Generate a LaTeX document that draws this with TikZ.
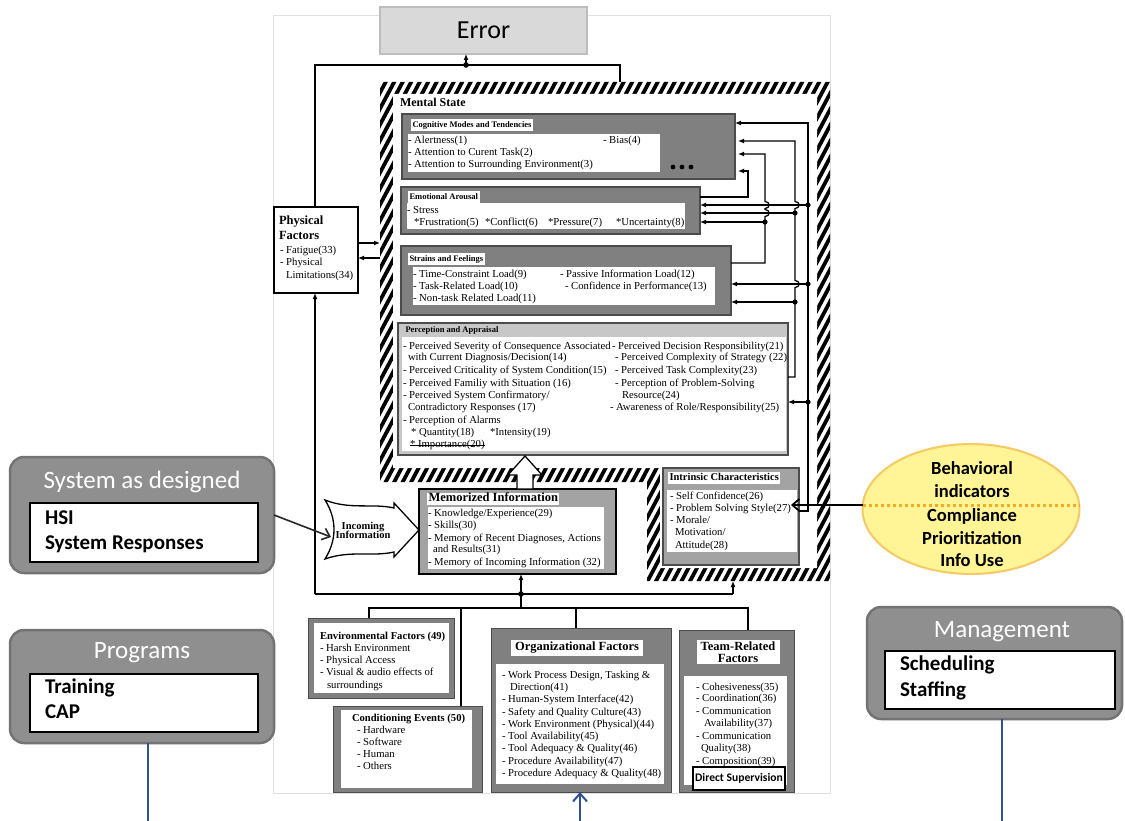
\documentclass[tikz,border=0pt]{standalone}
\usepackage{fontspec}
\setmainfont{Liberation Serif}
\newfontfamily\calib{Carlito}
\usetikzlibrary{arrows.meta,shapes.geometric}

\definecolor{gDark}{gray}{0.50}
\definecolor{gMid}{gray}{0.64}
\definecolor{gLight}{gray}{0.78}
\definecolor{gEdge}{gray}{0.30}
\definecolor{errFill}{gray}{0.85}
\definecolor{errEdge}{gray}{0.74}
\definecolor{outerFill}{gray}{0.56}
\definecolor{outerEdge}{gray}{0.45}
\definecolor{panelEdge}{gray}{0.88}
\definecolor{navy}{RGB}{47,82,143}
\definecolor{ellFill}{RGB}{255,245,150}
\definecolor{ellEdge}{RGB}{247,200,100}
\definecolor{ellDot}{RGB}{242,172,40}

% box from (x1,y1) to (x2,y2): name, style, x1, y1, x2, y2, text
\newcommand\bx[7]{\node[#2,inner sep=0pt,outer sep=0pt,minimum width={(#5-#3)*1pt},minimum height={(#6-#4)*1pt}] (#1) at ({(#3+#5)/2},{(#4+#6)/2}) {#7};}
% one line of text, left aligned at (x,y)
\newcommand\txl[5][]{\node[tx,#1] (#2) at (#3,#4) {#5};}

\begin{document}
\begin{tikzpicture}[x=1pt,y=-1pt,
  tx/.style={inner sep=0pt,outer sep=0pt,anchor=west,text height=0.72em,text depth=0.22em,font=\fontsize{10.7}{12}\selectfont},
  ttl/.style={tx,fill=white,inner xsep=1.5pt,inner ysep=1pt,font=\bfseries\fontsize{8.5}{10}\selectfont},
  bt/.style={font=\bfseries\fontsize{#1}{#1}\selectfont},
  gbox/.style={draw=gEdge,fill=gDark,line width=1.2pt},
  mbox/.style={draw=gEdge,fill=gMid,line width=1.2pt},
  wbox/.style={fill=white},
  obox/.style={rounded corners=14pt,fill=outerFill,draw=outerEdge,line width=2.5pt},
  otitle/.style={font=\calib\fontsize{25}{28}\selectfont,text=white,inner sep=0pt},
  oitem/.style={font=\calib\bfseries\fontsize{21}{24}\selectfont},
  ewords/.style={font=\calib\bfseries\fontsize{18.5}{22}\selectfont,inner sep=0pt},
  con/.style={line width=1.2pt},
  arr/.style={con,-{Latex[length=6pt,width=5pt]}},
  barb/.style={-{Straight Barb[length=7pt,width=12pt]}},
]
% canvas
\fill[white] (0,0) rectangle (1125,821);
\useasboundingbox (0,0) rectangle (1125,821);
\draw[panelEdge,fill=white,line width=0.8pt] (273,15) rectangle (830,793);

% hatched border of the mental state region
\begin{scope}
  \clip (380,82) -- (830,82) -- (830,581) -- (647,581) -- (647,482) -- (380,482) -- cycle;
  \foreach \a in {0,8.5,...,860} \draw[line width=3.8pt] (\a,600) -- ++(340,-640);
\end{scope}
\fill[white] (393,94) -- (817,94) -- (817,568) -- (660,568) -- (660,468) -- (393,468) -- cycle;

% Error
\bx{err}{draw=errEdge,fill=errFill,line width=1.5pt,font=\calib\fontsize{26}{28}\selectfont}{380}{7}{587}{54}{Error}

% Physical factors
\bx{phys}{draw=black,fill=white,line width=1.8pt}{274}{207}{358}{293}{}
\txl[bt=12.5]{ph1}{279}{222}{Physical}
\txl[bt=12.5]{ph2}{279}{237}{Factors}
\txl{ph3}{280}{251}{- Fatigue(33)}
\txl{ph4}{280}{263}{- Physical}
\txl{ph5}{286}{276}{Limitations(34)}

% connectors up to Error
\coordinate (jErr) at (466,65);
\coordinate (jL) at (315,65);
\coordinate (jR) at (620,65);
\coordinate (msTop) at (620,82);
\draw[con] (jL |- phys.north) -- (jL) -- (jR) -- (msTop);
\draw[arr] (jErr) -- (jErr |- err.south);
\fill (jErr) circle[radius=2.8pt];

% physical factors <-> mental state
\coordinate (msL1) at (380,243);
\coordinate (msL2) at (380,258);
\draw[arr] (phys.east |- msL1) -- (msL1);
\draw[arr] (msL2) -- (phys.east |- msL2);

\txl[bt=12]{ms}{400}{104}{Mental State}

% Cognitive modes
\bx{cog}{gbox}{402}{114}{735}{179}{}
\bx{cogw}{wbox}{408}{134}{660}{172}{}
\txl[ttl]{cogt}{411}{125}{Cognitive Modes and Tendencies}
\txl{cg1}{408}{141}{- Alertness(1)}
\txl{cg2}{603}{141}{- Bias(4)}
\txl{cg3}{408}{153}{- Attention to Curent Task(2)}
\txl{cg4}{408}{165}{- Attention to Surrounding Environment(3)}
\foreach \d in {673,682,691} \fill (\d,167) circle[radius=2.4pt];

% Emotional arousal
\bx{emo}{gbox}{401}{187}{700}{234}{}
\bx{emow}{wbox}{407}{203}{685}{229}{}
\txl[ttl]{emot}{408}{197}{Emotional Arousal}
\txl{em1}{407}{211}{- Stress}
\txl{em2}{414}{223}{*Frustration(5)}
\txl{em3}{485}{223}{*Conflict(6)}
\txl{em4}{548}{223}{*Pressure(7)}
\txl{em5}{616}{223}{*Uncertainty(8)}

% Strains and feelings
\bx{str}{gbox}{401}{246}{731}{315}{}
\bx{strw}{wbox}{413}{267}{715}{305}{}
\txl[ttl]{strt}{408}{259}{Strains and Feelings}
\txl{sf1}{413}{275}{- Time-Constraint Load(9)}
\txl{sf2}{413}{287}{- Task-Related Load(10)}
\txl{sf3}{413}{299}{- Non-task Related Load(11)}
\txl{sf4}{560}{275}{- Passive Information Load(12)}
\txl{sf5}{565}{287}{- Confidence in Performance(13)}

% Perception and appraisal
\bx{per}{draw=gEdge,fill=gLight,line width=1.2pt}{398}{323}{788}{455}{}
\bx{perw}{wbox}{402}{337}{786}{451}{}
\txl[ttl,fill=none]{pert}{404}{330}{Perception and Appraisal}
\txl{pa1}{403}{347}{- Perceived Severity of Consequence Associated}
\txl{pa2}{408}{358}{with Current Diagnosis/Decision(14)}
\txl{pa3}{403}{371}{- Perceived Criticality of System Condition(15)}
\txl{pa4}{403}{384}{- Perceived Familiy with Situation (16)}
\txl{pa5}{403}{396}{- Perceived System Confirmatory/}
\txl{pa6}{408}{408}{Contradictory Responses (17)}
\txl{pa7}{403}{421}{- Perception of Alarms}
\txl{pa8}{411}{433}{* Quantity(18)}
\txl{pa8b}{490}{433}{*Intensity(19)}
\txl{pa9}{410}{445}{* Importance(20)}
\draw[line width=0.7pt] (pa9.west) -- (pa9.east);
\txl{pb1}{612}{347}{- Perceived Decision Responsibility(21)}
\txl{pb2}{615}{358}{- Perceived Complexity of Strategy (22)}
\txl{pb3}{615}{371}{- Perceived Task Complexity(23)}
\txl{pb4}{615}{384}{- Perception of Problem-Solving}
\txl{pb5}{622}{396}{Resource(24)}
\txl{pb6}{610}{408}{- Awareness of Role/Responsibility(25)}

% Intrinsic characteristics
\bx{intr}{mbox}{663}{468}{799}{565}{}
\bx{intrw}{wbox}{667}{490}{797}{552}{}
\txl[ttl,bt=10.5]{intrt}{668}{478}{Intrinsic Characteristics}
\txl{ic1}{670}{497}{- Self Confidence(26)}
\txl{ic2}{670}{509}{- Problem Solving Style(27)}
\txl{ic3}{670}{521}{- Morale/}
\txl{ic4}{675}{533}{Motivation/}
\txl{ic5}{675}{546}{Attitude(28)}

% feedback lines on the right
% from intrinsic characteristics
\draw[arr] (intr.east |- 0,511) -- (808,511) -- (808,123) -- (cog.east |- 0,123);
\draw[arr] (808,205) -- (emo.east |- 0,205);
\draw[arr] (808,284) -- (str.east |- 0,284);
\draw[arr] (808,402) -- (per.east |- 0,402);
\foreach \y in {205,284,402} \fill (808,\y) circle[radius=2.6pt];
% from perception and appraisal
\draw[arr] (per.east |- 0,377) -- (795,377) -- (795,287.5)
  .. controls (800.5,287.5) and (800.5,280.5) .. (795,280.5) -- (795,208.5)
  .. controls (800.5,208.5) and (800.5,201.5) .. (795,201.5) -- (795,141) -- (738,141);
\draw[arr] (795,213) -- (emo.east |- 0,213);
\draw[arr] (795,302) -- (str.east |- 0,302);
\foreach \y in {213,302} \fill (795,\y) circle[radius=2.6pt];
% from strains and feelings
\draw[arr] (str.east |- 0,263) -- (765,263) -- (765,216.5)
  .. controls (770.5,216.5) and (770.5,209.5) .. (765,209.5) -- (765,208.5)
  .. controls (770.5,208.5) and (770.5,201.5) .. (765,201.5) -- (765,154) -- (738,154);
\draw[arr] (765,222) -- (emo.east |- 0,222);
\fill (765,222) circle[radius=2.6pt];
% from emotional arousal
\draw[arr] (emo.east |- 0,197) -- (748,197) -- (748,171) -- (738,171);

% Memorized information
\bx{mem}{draw=black,fill=gMid,line width=1.8pt}{419}{489}{616}{574}{}
\bx{memw}{wbox}{428}{507}{604}{569}{}
\txl[ttl,bt=12.5]{memt}{427}{499}{Memorized Information}
\txl{mi1}{428}{514}{- Knowledge/Experience(29)}
\txl{mi2}{428}{526}{- Skills(30)}
\txl{mi3}{428}{539}{- Memory of Recent Diagnoses, Actions}
\txl{mi4}{433}{550}{and Results(31)}
\txl{mi5}{428}{563}{- Memory of Incoming Information (32)}

% block arrow from memory to perception
\draw[line width=1.3pt,fill=white] (517,489) -- (517,475) -- (508,475) -- (525,456)
  -- (542,475) -- (533,475) -- (533,489) -- cycle;

% Incoming information
\draw[line width=1.3pt,fill=white] (325,500) .. controls (350,510) and (372,503) .. (394,508)
  -- (394,503) -- (419,530) -- (394,557) -- (394,552)
  .. controls (372,557) and (350,550) .. (325,559)
  .. controls (337,540) and (337,519) .. (325,500) -- cycle;
\node[bt=10.5,align=center,inner sep=0pt] (inc) at (363,530) {Incoming\\[-1.5pt]Information};
\coordinate (incL) at (331,537);

% bottom buses
\coordinate (busL) at (315,594);
\coordinate (busM) at (521,594);
\coordinate (busR) at (733,594);
\coordinate (msBot) at (733,581);
\coordinate (b2M) at (521,608);
\coordinate (b2L) at (369,608);
\coordinate (b2C) at (461,608);
\coordinate (b2O) at (576,608);
\coordinate (b2R) at (748,608);
\draw[arr] (busL) -- (busL |- phys.south);
\draw[con] (busL) -- (busR);
\draw[arr] (busR) -- (msBot);
\draw[arr] (busM) -- (busM |- mem.south);
\draw[con] (busM) -- (b2M);
\fill (busM) circle[radius=2.8pt];

% Environmental factors
\bx{env}{gbox,line width=1pt}{308}{618}{454}{698}{}
\bx{envw}{wbox}{314}{623}{449}{693}{}
\txl[bt=10.6]{en0}{320}{637}{Environmental Factors (49)}
\txl{en1}{320}{649}{- Harsh Environment}
\txl{en2}{320}{661}{- Physical Access}
\txl{en3}{320}{673}{- Visual \& audio effects of}
\txl{en4}{327}{686}{surroundings}

% Conditioning events
\bx{cond}{gbox,line width=1pt}{333}{706}{482}{792}{}
\bx{condw}{wbox}{341}{710}{472}{788}{}
\txl[bt=10.6]{ce0}{352}{719}{Conditioning Events (50)}
\txl{ce1}{357}{731}{- Hardware}
\txl{ce2}{357}{743}{- Software}
\txl{ce3}{357}{755}{- Human}
\txl{ce4}{357}{767}{- Others}

% Organizational factors
\bx{org}{gbox,line width=1pt}{491}{628}{671}{792}{}
\node[fill=white,inner xsep=4pt,inner ysep=2pt,bt=12.5] (orgt) at (577,648) {Organizational Factors};
\bx{orgw}{wbox}{496}{664}{664}{784}{}
\txl{of1}{502}{676}{- Work Process Design, Tasking \&}
\txl{of2}{510}{688}{Direction(41)}
\txl{of3}{502}{700}{- Human-System Interface(42)}
\txl{of4}{502}{713}{- Safety and Quality Culture(43)}
\txl{of5}{502}{725}{- Work Environment (Physical)(44)}
\txl{of6}{502}{737}{- Tool Availability(45)}
\txl{of7}{502}{749}{- Tool Adequacy \& Quality(46)}
\txl{of8}{502}{762}{- Procedure Availability(47)}
\txl{of9}{502}{774}{- Procedure Adequacy \& Quality(48)}

% Team-related factors
\bx{team}{gbox,line width=1pt}{679}{630}{794}{792}{}
\node[fill=white,align=center,inner ysep=2pt,minimum width=83pt,bt=12.5] (teamt) at (738,652) {Team-Related\\[-1pt]Factors};
\bx{teamw}{wbox}{684}{676}{787}{785}{}
\txl{tf1}{696}{688}{- Cohesiveness(35)}
\txl{tf2}{696}{699}{- Coordination(36)}
\txl{tf3}{696}{712}{- Communication}
\txl{tf4}{704}{724}{Availability(37)}
\txl{tf5}{696}{737}{- Communication}
\txl{tf6}{701}{749}{Quality(38)}
\txl{tf7}{696}{762}{- Composition(39)}
\bx{ds}{draw=black,fill=white,line width=2.2pt,font=\calib\bfseries\fontsize{11.6}{12}\selectfont}{693}{767}{785}{790}{Direct Supervision}

% second bus down to the factor groups
\draw[con] (env.north -| b2L) -- (b2L) -- (b2R) -- (team.north -| b2R);
\draw[con] (b2C) -- (b2C |- cond.north);
\draw[con] (b2O) -- (b2O |- org.north);

% Behavioral indicators
\node[ellipse,draw=ellEdge,fill=ellFill,line width=2pt,minimum width=217pt,minimum height=130pt,inner sep=0pt] (beh) at (971,509) {};
\coordinate (bhL) at ([yshift=4pt,xshift=1pt]beh.west);
\coordinate (bhR) at ([yshift=4pt,xshift=-1pt]beh.east);
\draw[ellDot,line width=3pt,dash pattern=on 3pt off 3pt] (bhL) -- (bhR);
\node[ewords] (bh1) at (972,468) {Behavioral};
\node[ewords] (bh2) at (972,491) {indicators};
\node[ewords] (bh3) at (972,516) {Compliance};
\node[ewords] (bh4) at (972,538) {Prioritization};
\node[ewords] (bh5) at (972,560) {Info Use};
\draw[line width=1.8pt,barb] (bhL) -- (bhL -| ic2.east);

% System as designed
\bx{sys}{obox}{10}{457}{274}{573}{}
\node[otitle] (syst) at (142,482) {System as designed};
\bx{sysw}{draw=black,fill=white,line width=2.2pt}{30}{503}{258}{562}{}
\txl[oitem]{sy1}{45}{522}{HSI}
\txl[oitem]{sy2}{45}{547}{System Responses}
\draw[line width=1.6pt,black!85,barb] (sys.east) -- (incL);

% Programs
\bx{prog}{obox}{10}{630}{274}{743}{}
\node[otitle] (progt) at (142,653) {Programs};
\bx{progw}{draw=black,fill=white,line width=2.2pt}{30}{674}{258}{732}{}
\txl[oitem]{pr1}{45}{691}{Training}
\txl[oitem]{pr2}{45}{716}{CAP}
\coordinate (progOut) at (148,821);
\draw[navy,line width=2pt] (progOut |- prog.south) -- (progOut);

% Management
\bx{mgmt}{obox}{867}{607}{1122}{719}{}
\node[otitle] (mgmtt) at (1002,632) {Management};
\bx{mgmtw}{draw=black,fill=white,line width=2.2pt}{885}{651}{1115}{709}{}
\txl[oitem]{mg1}{900}{668}{Scheduling}
\txl[oitem]{mg2}{900}{694}{Staffing}
\coordinate (mgmtOut) at (1002,821);
\draw[navy,line width=2pt] (mgmtOut |- mgmt.south) -- (mgmtOut);

% influence arriving at organizational factors
\coordinate (orgIn) at (580,821);
\draw[navy,line width=2pt,-{Straight Barb[length=8pt,width=14pt]}] (orgIn) -- (orgIn |- org.south);
\end{tikzpicture}
\end{document}
